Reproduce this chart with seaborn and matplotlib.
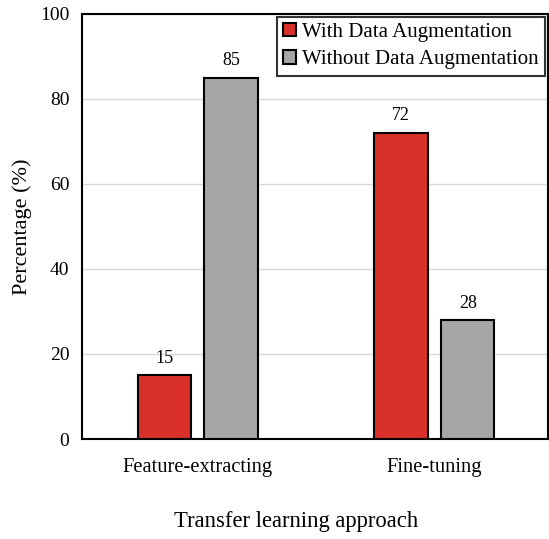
import pandas as pd
import matplotlib.pyplot as plt
import seaborn as sns

# data
approaches = ['Feature-extracting', 'Fine-tuning']
with_aug = [15, 72]
without_aug = [85, 28]
series = ['With Data Augmentation', 'Without Data Augmentation']

df = pd.DataFrame({
    'Approach': approaches * 2,
    'Percentage': with_aug + without_aug,
    'Series': [series[0]] * 2 + [series[1]] * 2,
})

sns.set_style('white', {'text.color': 'black', 'axes.labelcolor': 'black',
                        'xtick.color': 'black', 'ytick.color': 'black'})
plt.rcParams['font.family'] = ['Liberation Serif', 'DejaVu Serif']

fig = plt.figure(figsize=(5.49, 5.39), dpi=100)
ax = fig.add_axes([0.149, 0.1855, 0.849, 0.789])

sns.barplot(data=df, x='Approach', y='Percentage', hue='Series',
            palette=['#d9312a', '#a6a6a6'], saturation=1, width=0.564, gap=0.2,
            edgecolor='black', linewidth=1.5, ax=ax, zorder=3)

for c in ax.containers:
    ax.bar_label(c, padding=6, fontsize=13, color='black')

ax.set_ylim(0, 100)
ax.set_xlim(-0.49, 1.48)
ax.set_yticks(range(0, 101, 20))
ax.yaxis.grid(True, color='#d9d9d9', linewidth=1, zorder=0)
ax.tick_params(axis='y', labelsize=14, length=0, pad=9)
ax.tick_params(axis='x', labelsize=14.8, length=0, pad=14)
for s in ax.spines.values():
    s.set_color('black')
    s.set_linewidth(1.5)

ax.set_ylabel('Percentage (%)', fontsize=16, labelpad=6)
ax.set_xlabel('Transfer learning approach', fontsize=16.3, va='center')
ax.xaxis.set_label_coords(0.459, -0.195)

leg = ax.legend(loc='upper right', fontsize=15, frameon=True, fancybox=False,
                edgecolor='black', handlelength=0.6, handleheight=0.6,
                handletextpad=0.3, borderaxespad=0.15, labelspacing=0.4,
                borderpad=0.3)
leg.get_frame().set_linewidth(1.5)

fig.savefig('out.png', dpi=100)
